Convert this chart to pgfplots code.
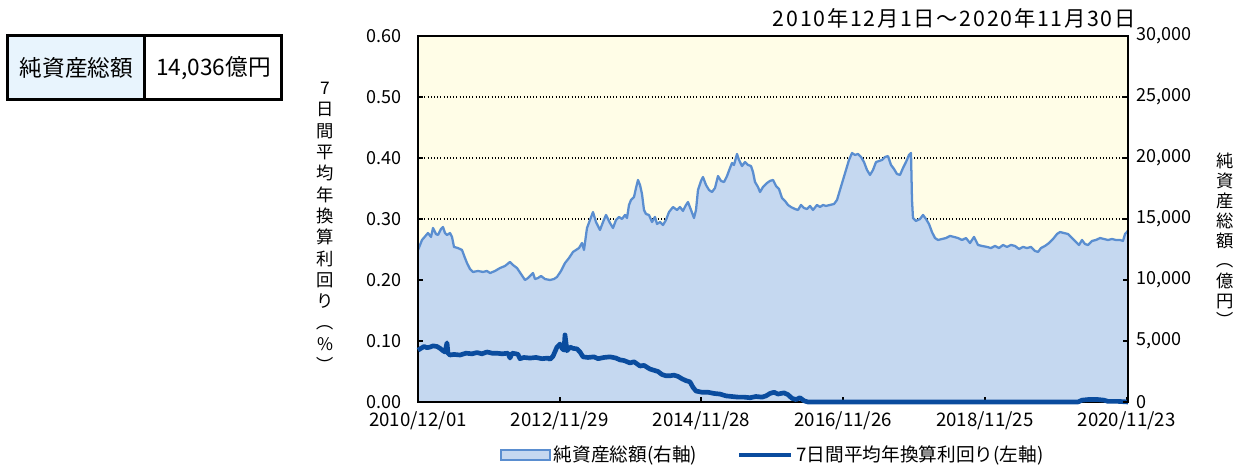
\documentclass[border=0pt]{standalone}
\usepackage{pgfplots}
\usepackage{pgfplotstable}
\usepackage{graphicx}
\pgfplotsset{compat=1.18}
\usepackage{fontspec}
\setmainfont{Noto Sans CJK JP}
\newfontfamily\titlefont[LetterSpace=8]{Noto Sans CJK JP}
\definecolor{bgy}{RGB}{255,253,231}
\definecolor{areaf}{RGB}{197,216,240}
\definecolor{areal}{RGB}{90,142,208}
\definecolor{yl}{RGB}{10,76,158}
\definecolor{cellb}{RGB}{232,244,253}
\newcommand{\vl}{\rotatebox[origin=c]{-90}{（}}
\newcommand{\vr}{\rotatebox[origin=c]{-90}{）}}

% x = position along the 10-year span (0 = 2010/12/01, 710 = 2020/11/30)
\pgfplotstableread{
x v
0 12460
4 13280
10 13850
13 13530
15 14260
18 13770
20 13690
23 14180
25 14340
27 13850
29 13690
32 13850
34 13530
36 12710
40 12620
44 12460
47 11800
49 11390
52 10900
55 10660
60 10740
65 10660
69 10740
72 10570
77 10740
82 10980
87 11150
92 11480
95 11230
99 10980
103 10490
107 10000
110 10160
112 10330
115 10570
117 10080
120 10160
123 10330
127 10080
132 10000
136 10080
139 10250
143 10740
147 11390
151 11800
155 12300
158 12460
161 12620
164 13030
166 12460
169 14260
172 14920
175 15570
178 14750
182 14100
185 14750
188 15330
192 14670
195 14260
198 14920
201 15170
204 15000
207 15330
209 15080
211 16150
213 16560
216 16800
218 17540
220 18200
222 17790
224 17050
226 15740
228 15410
231 15330
234 14750
237 15170
239 14590
242 14750
245 14510
248 14920
251 15570
255 15980
259 15740
262 15980
265 15660
268 16150
270 16390
273 15740
276 15080
278 15740
280 17380
283 18120
285 18440
288 17790
291 17380
294 17210
297 17540
300 18520
303 18120
306 18030
309 18520
312 19180
314 19590
316 19430
319 20330
321 19840
324 19340
327 19670
330 19430
333 19340
335 18850
337 18030
340 17620
342 17210
345 17620
349 17950
352 18120
355 18200
358 17710
361 17460
364 16720
367 16480
370 16150
373 15980
377 15820
380 15740
383 16150
386 15900
389 15820
392 16070
395 15740
399 16150
402 15980
405 16150
408 16070
412 16150
416 16230
419 16560
422 17380
425 18200
428 19020
431 19840
434 20410
437 20250
440 20330
443 20080
446 19670
449 19020
452 18610
455 19020
458 19670
461 19750
464 19840
467 20080
470 20160
473 19430
476 19100
479 18690
482 18610
485 19180
488 19670
491 20250
493 20410
494 16560
495 15080
498 14840
502 15000
505 15330
508 15000
511 14590
514 13930
517 13440
520 13280
524 13360
528 13440
532 13610
536 13530
540 13440
544 13280
548 13440
552 13030
556 13530
560 12870
564 12790
569 12710
573 12620
577 12790
581 12620
585 12870
589 12710
593 12870
597 12790
601 12540
605 12710
609 12620
613 12710
617 12380
620 12300
623 12620
627 12790
631 13030
635 13360
639 13770
642 13930
646 13850
650 13770
654 13440
658 13120
661 12870
664 13280
667 12950
670 12870
674 13200
678 13280
682 13440
686 13360
690 13280
694 13360
698 13280
702 13280
705 13200
707 13770
710 14036
}\assets

\pgfplotstableread{
x y
0 0.085
3 0.088
6 0.091
9 0.089
12 0.090
15 0.092
19 0.091
22 0.088
25 0.084
27 0.082
29 0.097
30 0.080
32 0.077
36 0.078
42 0.077
48 0.080
54 0.079
59 0.081
64 0.079
69 0.082
74 0.080
79 0.080
84 0.079
90 0.080
92 0.072
94 0.080
98 0.079
100 0.078
102 0.071
106 0.073
112 0.072
118 0.073
124 0.071
130 0.072
132 0.070
135 0.075
139 0.090
142 0.095
144 0.088
146 0.085
147 0.110
149 0.084
152 0.090
155 0.088
159 0.087
162 0.082
165 0.074
170 0.073
176 0.074
180 0.071
186 0.073
192 0.074
198 0.072
202 0.069
206 0.068
212 0.064
216 0.066
222 0.059
226 0.060
232 0.054
236 0.052
240 0.050
244 0.045
248 0.043
252 0.043
256 0.044
260 0.042
264 0.038
268 0.035
272 0.033
275 0.024
278 0.018
284 0.016
290 0.016
296 0.014
302 0.013
308 0.010
314 0.009
320 0.008
326 0.008
332 0.007
338 0.009
344 0.008
348 0.010
352 0.014
356 0.016
360 0.013
366 0.015
370 0.012
374 0.006
378 0.004
382 0.007
386 0.002
390 0.000
660 0.000
664 0.003
670 0.004
680 0.004
686 0.003
690 0.001
700 0.001
710 0.000
}\yieldtab

\pgfplotsset{
  common/.style={
    at={(0,0)}, anchor=south west, scale only axis,
    width=532.5pt, height=274.5pt,
    xmin=0, xmax=710,
    xtick={0,141.73,283.46,425.19,566.92,708.65},
    tick align=inside,
    major tick length=3.75pt,
    axis line style={line width=2pt},
    every tick/.style={black, line width=1.5pt},
    scaled y ticks=false, scaled x ticks=false,
    clip=false,
  },
  arealeg/.style={legend image code/.code={\draw[##1] (0pt,-3.5pt) rectangle (37pt,3.5pt);}},
  lineleg/.style={legend image code/.code={\draw[##1] (0pt,0pt) -- (39pt,0pt);}},
}

\begin{document}
\begin{tikzpicture}[x=0.75pt,y=0.75pt]
\useasboundingbox (-418,-65) rectangle (818,402);

% background, grid and area (right axis scale)
\begin{axis}[common, ymin=0, ymax=30000,
  ytick={5000,10000,15000,20000,25000},
  ymajorgrids, grid style={black, dotted, line width=0.8pt},
  axis background/.style={fill=bgy},
  xticklabels={}, yticklabels={}, major tick length=0pt,
  axis line style={draw=none}, clip=true]
\addplot[fill=areaf, draw=none] table[x=x,y=v]{\assets} \closedcycle;
\addplot[areal, line width=1.7pt, line join=round] table[x=x,y=v]{\assets};
\end{axis}

% left axis: yield line, frame, x labels, legend
\begin{axis}[common, ymin=0, ymax=0.6,
  ytick={0,0.1,0.2,0.3,0.4,0.5,0.6},
  yticklabels={0.00,0.10,0.20,0.30,0.40,0.50,0.60},
  ytick pos=left, xtick pos=bottom,
  xticklabels={2010/12/01,2012/11/29,2014/11/28,2016/11/26,2018/11/25,2020/11/23},
  yticklabel style={font=\fontsize{13.5}{15}\selectfont, xshift=-9pt},
  xticklabel style={font=\fontsize{14}{16}\selectfont, yshift=-4pt},
  legend style={at={(0.5,-0.145)}, anchor=center, draw=none, fill=none,
    font=\fontsize{14}{16}\selectfont, legend columns=2,
    /tikz/every even column/.append style={column sep=28pt}},
  ]
\addlegendimage{arealeg, fill=areaf, draw=areal, line width=1.5pt}
\addlegendentry{純資産総額(右軸)}
\addplot[yl, line width=3.5pt, line join=round, lineleg] table[x=x,y=y]{\yieldtab};
\addlegendentry{7日間平均年換算利回り(左軸)}
\end{axis}

% right axis ticks and labels on top
\begin{axis}[common, ymin=0, ymax=30000,
  axis x line=none, axis y line*=right,
  ytick={0,5000,10000,15000,20000,25000,30000},
  yticklabels={0,{5,000},{10,000},{15,000},{20,000},{25,000},{30,000}},
  yticklabel style={font=\fontsize{13.5}{15}\selectfont, xshift=3pt}]
\end{axis}

% title
\node[anchor=east, inner sep=0pt, font=\titlefont\fontsize{16}{18}\selectfont] at (718,384)
  {2010年12月1日～2020年11月30日};

% vertical axis titles
\node[align=center, inner sep=0pt, font=\fontsize{13}{16}\selectfont] at (-93,174)
  {7\\日\\間\\平\\均\\年\\換\\算\\利\\回\\り\\\vl\\\%\\\vr};
\node[align=center, inner sep=0pt, font=\fontsize{13}{15}\selectfont] at (807,161)
  {純\\資\\産\\総\\額\\\vl\\億\\円\\\vr};

% net assets box
\draw[line width=2.25pt, fill=cellb] (-410,302) rectangle (-273,366);
\draw[line width=2.25pt, fill=white] (-273,302) rectangle (-136,366);
\node[font=\fontsize{17}{19}\selectfont] at (-341.5,334) {純資産総額};
\node[font=\fontsize{17}{19}\selectfont] at (-204.5,334) {14,036億円};
\end{tikzpicture}
\end{document}
